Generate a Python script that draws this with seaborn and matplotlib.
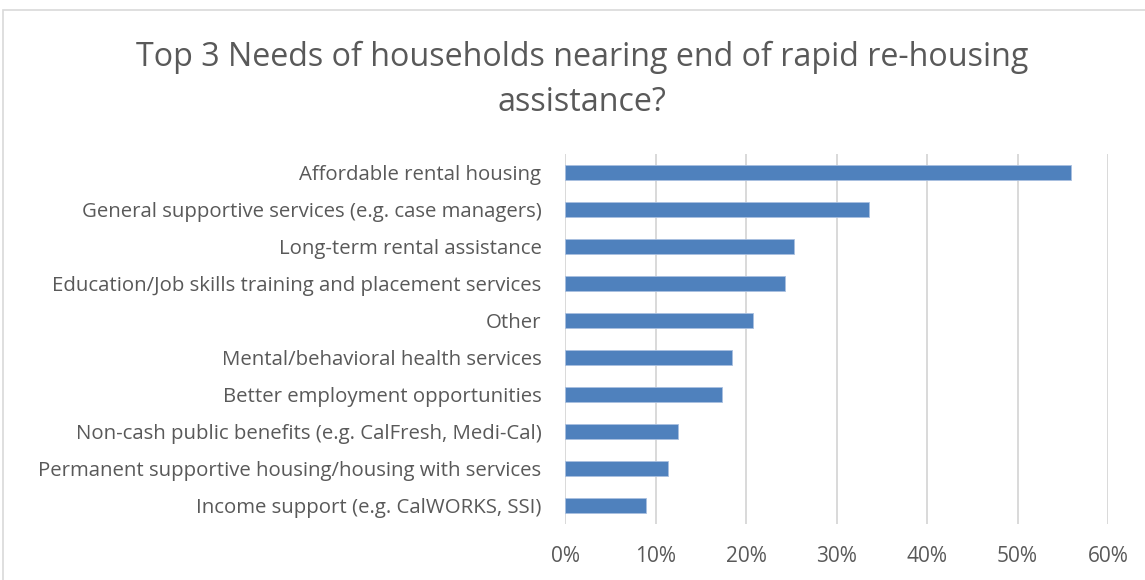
import matplotlib
matplotlib.use("Agg")
import matplotlib.pyplot as plt
import matplotlib.patches as mpatches
from matplotlib.ticker import FuncFormatter
import seaborn as sns
import pandas as pd

categories = [
    "Affordable rental housing",
    "General supportive services (e.g. case managers)",
    "Long-term rental assistance",
    "Education/Job skills training and placement services",
    "Other",
    "Mental/behavioral health services",
    "Better employment opportunities",
    "Non-cash public benefits (e.g. CalFresh, Medi-Cal)",
    "Permanent supportive housing/housing with services",
    "Income support (e.g. CalWORKS, SSI)",
]
shares = [0.559, 0.336, 0.253, 0.243, 0.208, 0.184, 0.174, 0.125, 0.114, 0.090]
xticks = [0.0, 0.1, 0.2, 0.3, 0.4, 0.5, 0.6]
title = "Top 3 Needs of households nearing end of rapid re-housing\nassistance?"

df = pd.DataFrame({"need": categories, "share": shares})

sns.set_theme(style="white")
plt.rcParams["font.family"] = ["Open Sans", "DejaVu Sans"]

W, H = 1145, 580
fig = plt.figure(figsize=(W / 100, H / 100), dpi=100)
ax = fig.add_axes([565 / W, 1 - 524 / H, (1108 - 565) / W, (524 - 154) / H])

sns.barplot(data=df, x="share", y="need", orient="h", color="#4f81bd",
            saturation=1, width=0.4, ax=ax, edgecolor="#a9c0e0", linewidth=0.6)

ax.set_xlim(0, 0.6)
ax.set_xticks(xticks)
ax.xaxis.set_major_formatter(FuncFormatter(lambda v, _: f"{v * 100:.0f}%"))
ax.grid(axis="x", color="#d9d9d9", linewidth=1.4)
ax.set_axisbelow(True)
for s in ax.spines.values():
    s.set_visible(False)
ax.set_xlabel("")
ax.set_ylabel("")
ax.tick_params(axis="both", length=0, colors="#595959")
ax.tick_params(axis="y", pad=17, labelsize=14.7)
ax.tick_params(axis="x", pad=16, labelsize=15)

fig.text(582 / W, 1 - 80 / H, title, ha="center", va="center", fontsize=23.2,
         color="#595959", linespacing=1.45)

border = mpatches.Rectangle((3 / W, -0.1), 1.1, 1 - 10 / H + 0.1,
                            transform=fig.transFigure, fill=False,
                            edgecolor="#d9d9d9", linewidth=1.2)
fig.patches.append(border)

fig.savefig("out.png", dpi=100, facecolor="white")
